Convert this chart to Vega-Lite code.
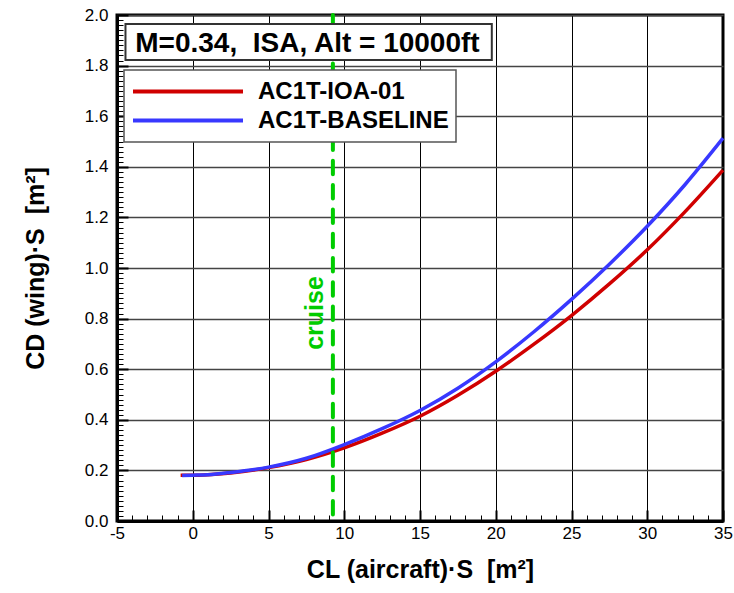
{
  "$schema": "https://vega.github.io/schema/vega-lite/v6.json",
  "width": 606,
  "height": 506,
  "autosize": {"type": "none"},
  "padding": {"left": 117, "top": 15, "right": 11, "bottom": 72},
  "background": "white",
  "config": {"view": {"stroke": "black", "strokeWidth": 3}, "font": "Liberation Sans"},
  "datasets": {
    "curves": [
      {"series": "AC1T-IOA-01", "cl": -0.8, "cd": 0.181},
      {"series": "AC1T-IOA-01", "cl": 0, "cd": 0.181},
      {"series": "AC1T-IOA-01", "cl": 1, "cd": 0.183},
      {"series": "AC1T-IOA-01", "cl": 2.5, "cd": 0.19},
      {"series": "AC1T-IOA-01", "cl": 5, "cd": 0.211},
      {"series": "AC1T-IOA-01", "cl": 7.5, "cd": 0.243},
      {"series": "AC1T-IOA-01", "cl": 10, "cd": 0.289},
      {"series": "AC1T-IOA-01", "cl": 12.5, "cd": 0.347},
      {"series": "AC1T-IOA-01", "cl": 15, "cd": 0.414},
      {"series": "AC1T-IOA-01", "cl": 17.5, "cd": 0.497},
      {"series": "AC1T-IOA-01", "cl": 20, "cd": 0.592},
      {"series": "AC1T-IOA-01", "cl": 22.5, "cd": 0.698},
      {"series": "AC1T-IOA-01", "cl": 25, "cd": 0.812},
      {"series": "AC1T-IOA-01", "cl": 27.5, "cd": 0.937},
      {"series": "AC1T-IOA-01", "cl": 30, "cd": 1.072},
      {"series": "AC1T-IOA-01", "cl": 32.5, "cd": 1.223},
      {"series": "AC1T-IOA-01", "cl": 35, "cd": 1.387},
      {"series": "AC1T-BASELINE", "cl": -0.7, "cd": 0.18},
      {"series": "AC1T-BASELINE", "cl": 0, "cd": 0.181},
      {"series": "AC1T-BASELINE", "cl": 1, "cd": 0.183},
      {"series": "AC1T-BASELINE", "cl": 2.5, "cd": 0.192},
      {"series": "AC1T-BASELINE", "cl": 5, "cd": 0.213},
      {"series": "AC1T-BASELINE", "cl": 7.5, "cd": 0.248},
      {"series": "AC1T-BASELINE", "cl": 10, "cd": 0.302},
      {"series": "AC1T-BASELINE", "cl": 12.5, "cd": 0.365},
      {"series": "AC1T-BASELINE", "cl": 15, "cd": 0.437},
      {"series": "AC1T-BASELINE", "cl": 17.5, "cd": 0.525},
      {"series": "AC1T-BASELINE", "cl": 20, "cd": 0.629},
      {"series": "AC1T-BASELINE", "cl": 22.5, "cd": 0.747},
      {"series": "AC1T-BASELINE", "cl": 25, "cd": 0.876},
      {"series": "AC1T-BASELINE", "cl": 27.5, "cd": 1.015},
      {"series": "AC1T-BASELINE", "cl": 30, "cd": 1.165},
      {"series": "AC1T-BASELINE", "cl": 32.5, "cd": 1.33},
      {"series": "AC1T-BASELINE", "cl": 35, "cd": 1.513}
    ],
    "cruise": [{"cl": 9.25, "label": "cruise"}],
    "note": [{"label": "M=0.34,\u00a0 ISA, Alt = 10000ft"}]
  },
  "layer": [
    {
      "data": {"name": "curves"},
      "mark": {"type": "line", "strokeWidth": 3.5, "interpolate": "monotone"},
      "encoding": {
        "x": {
          "field": "cl", "type": "quantitative",
          "scale": {"domain": [-5, 35], "nice": false, "zero": false},
          "axis": {
            "orient": "bottom", "tickCount": 500,
            "values": [-5,-4,-3,-2,-1,0,1,2,3,4,5,6,7,8,9,10,11,12,13,14,15,16,17,18,19,20,21,22,23,24,25,26,27,28,29,30,31,32,33,34,35],
            "format": "d",
            "labelExpr": "datum.value % 5 === 0 ? replace(datum.label, '\u2212', '-') : ''",
            "grid": true, "gridColor": "black", "gridWidth": 1,
            "gridOpacity": {"condition": {"test": "datum.value % 5 !== 0", "value": 0}, "value": 1},
            "tickSize": {"condition": {"test": "datum.value % 5 === 0", "value": -11}, "value": -6},
            "tickWidth": {"condition": {"test": "datum.value % 5 === 0", "value": 2}, "value": 1},
            "tickColor": "black",
            "domain": true, "domainWidth": 3, "domainColor": "black",
            "labelPadding": 15, "labelFontSize": 17, "labelColor": "black", "labelFont": "Liberation Sans",
            "labelFlush": false, "labelOverlap": false,
            "title": "CL (aircraft)·S\u00a0 [m²]", "titleFontSize": 25, "titleFontWeight": "bold",
            "titleColor": "black", "titleFont": "Liberation Sans", "titlePadding": 11
          }
        },
        "y": {
          "field": "cd", "type": "quantitative",
          "scale": {"domain": [0, 2], "nice": false, "zero": false},
          "axis": {
            "orient": "left", "tickCount": 500,
            "values": [0,0.02,0.04,0.06,0.08,0.1,0.12,0.14,0.16,0.18,0.2,0.22,0.24,0.26,0.28,0.3,0.32,0.34,0.36,0.38,0.4,0.42,0.44,0.46,0.48,0.5,0.52,0.54,0.56,0.58,0.6,0.62,0.64,0.66,0.68,0.7,0.72,0.74,0.76,0.78,0.8,0.82,0.84,0.86,0.88,0.9,0.92,0.94,0.96,0.98,1,1.02,1.04,1.06,1.08,1.1,1.12,1.14,1.16,1.18,1.2,1.22,1.24,1.26,1.28,1.3,1.32,1.34,1.36,1.38,1.4,1.42,1.44,1.46,1.48,1.5,1.52,1.54,1.56,1.58,1.6,1.62,1.64,1.66,1.68,1.7,1.72,1.74,1.76,1.78,1.8,1.82,1.84,1.86,1.88,1.9,1.92,1.94,1.96,1.98,2],
            "format": ".1f",
            "labelExpr": "round(datum.value * 50) % 10 === 0 ? datum.label : ''",
            "grid": true, "gridColor": "#444444", "gridWidth": 1.3,
            "gridOpacity": {"condition": {"test": "round(datum.value * 50) % 10 !== 0", "value": 0}, "value": 1},
            "tickSize": {"condition": {"test": "round(datum.value * 50) % 10 === 0", "value": -11}, "value": -6},
            "tickWidth": {"condition": {"test": "round(datum.value * 50) % 10 === 0", "value": 2}, "value": 1},
            "tickColor": "black",
            "domain": true, "domainWidth": 3, "domainColor": "black",
            "labelPadding": 20, "labelFontSize": 17, "labelColor": "black", "labelFont": "Liberation Sans",
            "labelFlush": false, "labelOverlap": false,
            "title": "CD (wing)·S\u00a0 [m²]", "titleFontSize": 25, "titleFontWeight": "bold",
            "titleColor": "black", "titleFont": "Liberation Sans", "titlePadding": 36
          }
        },
        "color": {
          "field": "series", "type": "nominal",
          "scale": {"domain": ["AC1T-IOA-01", "AC1T-BASELINE"], "range": ["#d00000", "#3838ff"]},
          "legend": {
            "title": null, "orient": "none", "legendX": 7, "legendY": 55, "direction": "vertical",
            "symbolType": "stroke", "symbolSize": 12100, "symbolStrokeWidth": 4, "clipHeight": 29,
            "labelFontSize": 24, "labelFontWeight": "bold", "labelFont": "Liberation Sans", "labelColor": "black",
            "labelOffset": 13, "rowPadding": 0, "padding": 7, "labelLimit": 400,
            "strokeColor": "#555555", "fillColor": "white",
            "encode": {"legend": {"update": {"strokeWidth": {"value": 1.5}}}}
          }
        }
      }
    },
    {
      "data": {"name": "cruise"},
      "mark": {"type": "rule", "color": "#00cc00", "strokeWidth": 4, "strokeDash": [13.5, 10.8], "strokeCap": "round"},
      "encoding": {
        "x": {"field": "cl", "type": "quantitative", "scale": {"domain": [-5, 35], "nice": false, "zero": false}}
      }
    },
    {
      "data": {"name": "cruise"},
      "mark": {"type": "text", "angle": 270, "align": "center", "baseline": "alphabetic", "fontSize": 25, "fontWeight": "bold", "color": "#00cc00", "font": "Liberation Sans"},
      "encoding": {
        "x": {"datum": 8.62, "type": "quantitative"},
        "y": {"datum": 0.822, "type": "quantitative"},
        "text": {"field": "label"}
      }
    },
    {
      "data": {"name": "note"},
      "mark": {"type": "rect", "fill": "white", "stroke": "#333333", "strokeWidth": 2},
      "encoding": {
        "x": {"datum": -4.44, "type": "quantitative"},
        "x2": {"datum": 19.74},
        "y": {"datum": 1.822, "type": "quantitative"},
        "y2": {"datum": 1.964}
      }
    },
    {
      "data": {"name": "note"},
      "mark": {"type": "text", "align": "center", "baseline": "alphabetic", "fontSize": 28, "fontWeight": "bold", "color": "black", "font": "Liberation Sans"},
      "encoding": {
        "x": {"datum": 7.57, "type": "quantitative"},
        "y": {"datum": 1.855, "type": "quantitative"},
        "text": {"field": "label"}
      }
    }
  ]
}
